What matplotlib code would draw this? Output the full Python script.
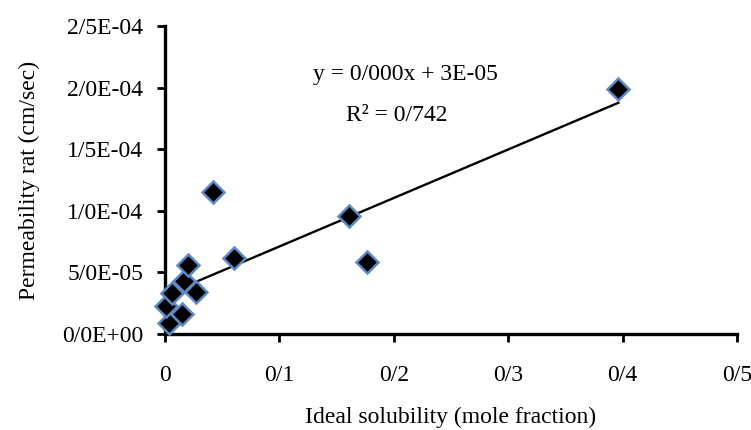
import numpy as np
import matplotlib
matplotlib.use("Agg")
import matplotlib.pyplot as plt
from matplotlib.ticker import FuncFormatter, MultipleLocator

# ideal solubility (mole fraction) vs permeability rate (cm/sec)
solubility = [0.0038, 0.0009, 0.0064, 0.0151, 0.0169, 0.0204, 0.0271,
              0.0417, 0.0606, 0.1608, 0.1768, 0.3963]
permeability = [0.87e-5, 2.3e-5, 3.3e-5, 1.6e-5, 4.32e-5, 5.59e-5, 3.43e-5,
                11.53e-5, 6.2e-5, 9.59e-5, 5.86e-5, 19.89e-5]
eq_text = "y = 0/000x + 3E-05"
r2_text = "R² = 0/742"

plt.rcParams["font.family"] = ["Liberation Serif", "DejaVu Serif"]
plt.rcParams["font.size"] = 17

fig = plt.figure(figsize=(7.51, 4.30), dpi=100)
ax = fig.add_axes([0.2197, 0.2233, 0.7617, 0.7162])

x = np.array(solubility)
y = np.array(permeability)
slope, intercept = np.polyfit(x, y, 1)
xl = np.array([x.min(), x.max()])
ax.plot(xl, slope * xl + intercept, color="black", lw=1.7, zorder=2)

ax.plot(x, y, ls="none", marker="D", ms=11.5, mfc="black", mec="#5b8ac6",
        mew=1.8, zorder=3, clip_on=False)

ax.set_xlim(0, 0.5)
ax.set_ylim(0, 2.5e-4)
ax.xaxis.set_major_locator(MultipleLocator(0.1))
ax.yaxis.set_major_locator(MultipleLocator(5e-5))


def xfmt(v, pos):
    if abs(v) < 1e-9:
        return "0"
    return f"{v:.1f}".replace(".", "/")


def yfmt(v, pos):
    return f"{v:.1E}".replace(".", "/")


ax.xaxis.set_major_formatter(FuncFormatter(xfmt))
ax.yaxis.set_major_formatter(FuncFormatter(yfmt))

for side in ("top", "right"):
    ax.spines[side].set_visible(False)
for side in ("left", "bottom"):
    ax.spines[side].set_linewidth(2.4)
ax.tick_params(direction="out", length=5.5, width=2, labelsize=17)
ax.tick_params(axis="x", pad=17)
ax.tick_params(axis="y", pad=10)

ax.set_xlabel("Ideal solubility (mole fraction)", fontsize=17, labelpad=15)
ax.set_ylabel("Permeability rat (cm/sec)", fontsize=17, labelpad=16)

ax.text(0.42, 0.841, eq_text, transform=ax.transAxes, ha="center",
        va="center", fontsize=17)
ax.text(0.4056, 0.711, r2_text, transform=ax.transAxes, ha="center",
        va="center", fontsize=17)

fig.savefig("out.png", dpi=100)
